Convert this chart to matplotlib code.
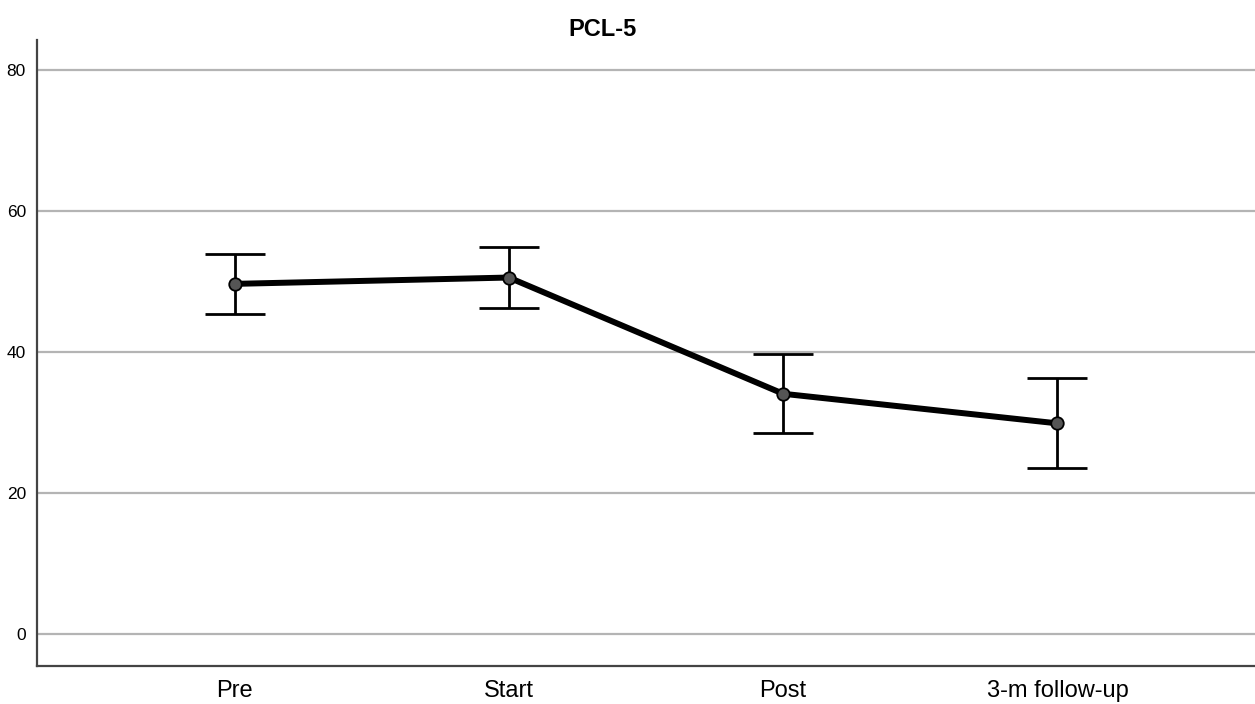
import numpy as np
import matplotlib.pyplot as plt

plt.rcParams['font.family'] = ['Liberation Sans', 'DejaVu Sans']

# Werte
phases = ["Pre", "Start", "Post", "3-m follow-up"]
means = [49.7, 50.6, 34.1, 29.9]
ci_low = [45.4, 46.3, 28.5, 23.5]
ci_high = [54.0, 54.9, 39.8, 36.4]
yticks = [0, 20, 40, 60, 80]

x = np.arange(len(phases))
m = np.array(means)
err = [m - np.array(ci_low), np.array(ci_high) - m]

fig = plt.figure(figsize=(12.55, 7.04), dpi=100)
ax = fig.add_axes([0.0295, 0.0544, 0.9705, 0.8886])

for y in yticks:
    ax.axhline(y, color="#b4b4b4", lw=1.6, zorder=0)

ax.errorbar(x, m, yerr=err, fmt="none", ecolor="black", elinewidth=2.0,
            capsize=21.6, capthick=2.0, zorder=2)
ax.plot(x, m, color="black", lw=4.3, zorder=3)
ax.plot(x, m, "o", ms=9, mfc="#555555", mec="black", mew=1.3, zorder=4)

ax.set_xlim(-0.72, 3.72)
ax.set_ylim(-4.5, 84.3)
ax.set_xticks(x)
ax.set_xticklabels(phases, fontsize=17)
ax.set_yticks(yticks)
ax.tick_params(axis="y", length=0, pad=8, labelsize=12.5)
ax.tick_params(axis="x", length=0, pad=10)

for s in ["top", "right"]:
    ax.spines[s].set_visible(False)
for s in ["left", "bottom"]:
    ax.spines[s].set_color("#444444")
    ax.spines[s].set_linewidth(1.6)

fig.text(603 / 1255, 1 - 30 / 704, "PCL-5", ha="center", va="center",
         fontsize=17, fontweight="bold")

fig.savefig("out.png", dpi=100)
